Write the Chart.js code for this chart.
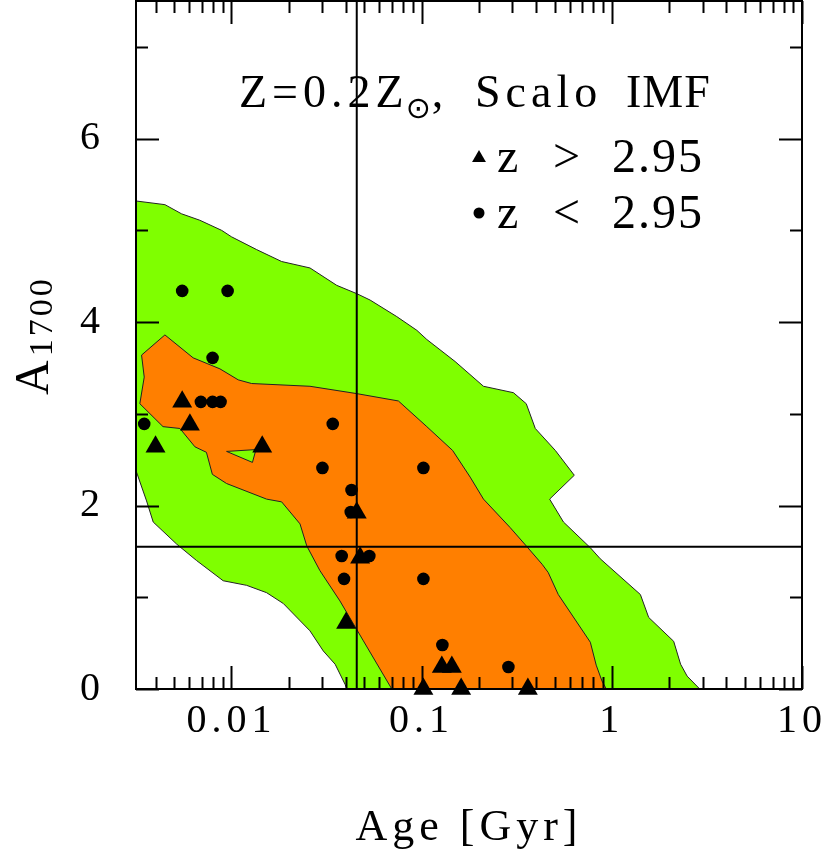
<!DOCTYPE html>
<html><head><meta charset="utf-8">
<script src="https://cdn.jsdelivr.net/npm/chart.js@4/dist/chart.umd.min.js"></script>
<style>html,body{margin:0;padding:0;background:#fff}#wrap{width:830px;height:852px}</style>
</head><body><div id="wrap"><canvas id="c" width="830" height="852"></canvas></div>
<script>
// ---- axis ranges and tick labels ----
const xMin = 0.00315, xMax = 10, yMin = 0, yMax = 7.5;
const xTickLabels = [0.01, 0.1, 1, 10];
const yTickLabels = [0, 2, 4, 6];
const yMinorTicks = [1, 3, 5, 7];

// ---- outer (green) confidence region: age [Gyr], A1700 ----
const greenAge = [0.00315,0.00447,0.00547,0.00682,0.00888,0.0100,0.01357,0.01837,0.02588,0.0358,0.0456,0.0536,0.0740,0.0944,0.1065,0.150,0.2115,0.304,0.355,0.396,0.505,0.635,0.471,0.557,0.771,0.869,1.413,1.563,2.115,2.30,2.49,2.90,
  0.0404,0.0396,0.0351,0.0304,0.02588,0.01874,0.01531,0.01202,0.00905,0.00656,0.00515,0.00388,0.00358,0.00315,0.00315];
const greenA = [5.32,5.28,5.18,5.11,5.00,4.93,4.79,4.66,4.59,4.40,4.31,4.24,4.06,3.91,3.81,3.57,3.30,3.23,3.11,2.84,2.60,2.33,2.07,1.82,1.54,1.42,1.03,0.78,0.52,0.27,0.14,0,
  0,0.05,0.27,0.415,0.634,0.932,1.05,1.13,1.18,1.40,1.58,1.82,2.05,2.38,5.32];

// ---- inner (orange) confidence region ----
const orangeAge = [0.00337,0.00447,0.00629,0.00870,0.01086,0.01277,0.02588,0.0456,0.0755,0.1065,0.1456,0.180,0.2115,0.292,0.355,0.430,0.463,0.523,0.771,0.828,0.888,0.935,
  0.0697,0.0494,0.0372,0.0292,0.0249,0.02294,0.01837,0.01531,0.00943,0.00794,0.00739,0.00643,0.00536,0.00437,0.00330,0.00348,0.00337];
const orangeA = [3.64,3.86,3.61,3.49,3.37,3.33,3.30,3.22,3.14,2.86,2.60,2.31,2.07,1.76,1.56,1.36,1.27,1.03,0.51,0.26,0.087,0,
  0,0.525,0.96,1.29,1.56,1.80,2.04,2.07,2.24,2.34,2.58,2.64,2.84,2.86,3.11,3.40,3.64];

// ---- small green hole inside the orange region ----
const holeAge = [0.00943,0.01346,0.01290,0.00943];
const holeA = [2.59,2.61,2.47,2.59];

// ---- galaxies: z < 2.95 (circles) ----
const lowzAge = [0.00551,0.00955,0.00796,0.00691,0.00796,0.00877,0.00348,0.0341,0.0301,0.1022,0.0428,0.0424,0.0380,0.0531,0.0391,0.1022,0.1286,0.286];
const lowzA = [4.34,4.34,3.61,3.13,3.13,3.13,2.89,2.89,2.41,2.41,2.17,1.93,1.45,1.45,1.20,1.20,0.48,0.24];

// ---- galaxies: z > 2.95 (triangles) ----
const highzAge = [0.00551,0.00605,0.00399,0.01452,0.0456,0.0475,0.0401,0.1277,0.1442,0.1022,0.1614,0.362];
const highzA = [3.13,2.88,2.64,2.64,1.92,1.43,0.72,0.24,0.24,0,0,0];

// ---- reference lines ----
const refAge = 0.0456;
const refA = 1.55;

const pts = (xs, ys) => xs.map((x, i) => ({x, y: ys[i]}));
const SERIF = '"Liberation Serif", "DejaVu Serif", serif';

const spacing = {
  id: 'spacing',
  beforeUpdate(chart) { chart.ctx.letterSpacing = '5px'; },
  beforeDraw(chart) { chart.ctx.letterSpacing = '5px'; }
};

// keep the plot frame flush with the top of the canvas (as in the original figure)
const areaFix = {
  id: 'areaFix',
  afterLayout(chart) {
    const ca = chart.chartArea, ya = chart.scales.y;
    const top = 1;
    if (Math.abs(ca.top - top) < 0.5) return;
    ca.top = top; ca.height = ca.bottom - top;
    ya.top = top; ya.height = ya.bottom - top;
    ya.configure();
  }
};

const frameTicks = {
  id: 'frameTicks',
  afterDatasetDraw(chart, args) {
    if (chart.data.datasets[args.index].label !== 'hole') return;
    const ctx = chart.ctx, xa = chart.scales.x, ya = chart.scales.y, ca = chart.chartArea;
    ctx.save();
    ctx.strokeStyle = '#000'; ctx.lineWidth = 2;
    ctx.strokeRect(ca.left, ca.top, ca.right - ca.left, ca.bottom - ca.top);
    ctx.beginPath();
    for (let d = -3; d <= 1; d++) {
      for (let m = 1; m <= 9; m++) {
        const v = m * Math.pow(10, d);
        if (v < xMin * 0.999 || v > xMax * 1.001) continue;
        const len = (m === 1) ? 23 : 12;
        const p = Math.round(xa.getPixelForValue(v)) + 0.5;
        ctx.moveTo(p, ca.bottom); ctx.lineTo(p, ca.bottom - len);
        ctx.moveTo(p, ca.top); ctx.lineTo(p, ca.top + len);
      }
    }
    const yt = yTickLabels.map(v => [v, 23]).concat(yMinorTicks.map(v => [v, 12]));
    for (const [v, len] of yt) {
      const p = Math.round(ya.getPixelForValue(v)) + 0.5;
      ctx.moveTo(ca.left, p); ctx.lineTo(ca.left + len, p);
      ctx.moveTo(ca.right, p); ctx.lineTo(ca.right - len, p);
    }
    ctx.stroke();
    ctx.restore();
  }
};

const annot = {
  id: 'annot',
  afterDraw(chart) {
    const ctx = chart.ctx;
    ctx.save();
    ctx.fillStyle = '#000';
    ctx.textBaseline = 'alphabetic';
    ctx.textAlign = 'left';
    // title line
    const big = '46px ' + SERIF;
    ctx.font = big;
    ctx.letterSpacing = '5px';
    let x = 239; const by = 107;
    ctx.fillText('Z=0.2Z', x, by);
    x += ctx.measureText('Z=0.2Z').width - 3;
    ctx.letterSpacing = '0px';
    ctx.font = '30px "DejaVu Sans"';
    ctx.fillText('\u2299', x, by + 11);
    x += ctx.measureText('\u2299').width + 1;
    ctx.font = big;
    ctx.fillText(',', x, by);
    ctx.letterSpacing = '5px';
    ctx.fillText('Scalo', 475, by);
    ctx.letterSpacing = '1px';
    ctx.fillText('IMF', 626, by);
    // legend lines
    ctx.font = '48px ' + SERIF;
    ctx.letterSpacing = '2px';
    ctx.fillText('z', 497, 172); ctx.fillText('>', 553, 172); ctx.fillText('2.95', 612, 172);
    ctx.fillText('z', 497, 228); ctx.fillText('<', 553, 228); ctx.fillText('2.95', 612, 228);
    // legend keys
    ctx.beginPath();
    const tx = 479, ty = 158, r = 8;
    ctx.moveTo(tx, ty - r); ctx.lineTo(tx + r * 0.866, ty + r / 2); ctx.lineTo(tx - r * 0.866, ty + r / 2); ctx.closePath();
    ctx.fill();
    ctx.beginPath(); ctx.arc(479, 213, 5.5, 0, Math.PI * 2); ctx.fill();
    // y axis title A_1700
    ctx.translate(48, 395);
    ctx.rotate(-Math.PI / 2);
    ctx.letterSpacing = '0px';
    ctx.font = '48px ' + SERIF;
    ctx.fillText('A', 0, 0);
    const aw = ctx.measureText('A').width;
    ctx.font = '34px ' + SERIF;
    ctx.letterSpacing = '3px';
    ctx.fillText('1700', aw + 4, 4);
    ctx.restore();
  }
};

new Chart(document.getElementById('c'), {
  type: 'scatter',
  data: {
    datasets: [
      { label: 'green', data: pts(greenAge, greenA), showLine: true, fill: 'shape', backgroundColor: '#7fff00', borderColor: '#222', borderWidth: 1, pointRadius: 0, tension: 0, order: 10 },
      { label: 'orange', data: pts(orangeAge, orangeA), showLine: true, fill: 'shape', backgroundColor: '#ff7f00', borderColor: '#222', borderWidth: 1, pointRadius: 0, tension: 0, order: 9 },
      { label: 'hole', data: pts(holeAge, holeA), showLine: true, fill: 'shape', backgroundColor: '#7fff00', borderColor: '#222', borderWidth: 1, pointRadius: 0, tension: 0, order: 8 },
      { label: 'vline', data: [{x: refAge, y: yMin}, {x: refAge, y: yMax}], showLine: true, borderColor: '#000', borderWidth: 2, pointRadius: 0, order: 6 },
      { label: 'hline', data: [{x: xMin, y: refA}, {x: xMax, y: refA}], showLine: true, borderColor: '#000', borderWidth: 2, pointRadius: 0, order: 6 },
      { label: 'z < 2.95', data: pts(lowzAge, lowzA), pointStyle: 'circle', pointRadius: 6.3, backgroundColor: '#000', borderWidth: 0, clip: false, order: 1 },
      { label: 'z > 2.95', data: pts(highzAge, highzA), pointStyle: 'triangle', pointRadius: 11.5, backgroundColor: '#000', borderWidth: 0, clip: false, order: 1 }
    ]
  },
  options: {
    responsive: false,
    animation: false,
    devicePixelRatio: 1,
    layout: { autoPadding: false, padding: { top: 1, right: 28, left: 0, bottom: 0 } },
    plugins: { legend: { display: false }, tooltip: { enabled: false } },
    scales: {
      x: {
        type: 'logarithmic', min: xMin, max: xMax, position: 'bottom',
        grid: { display: false, drawTicks: false },
        border: { display: false },
        afterBuildTicks: s => { s.ticks = xTickLabels.map(v => ({ value: v })); },
        afterFit: s => { s.height = 163; s.paddingLeft = 0; s.paddingRight = 0; },
        ticks: { color: '#000', font: { family: SERIF, size: 40 }, padding: 8, maxRotation: 0, autoSkip: false, callback: v => String(v) },
        title: { display: true, text: 'Age [Gyr]', color: '#000', font: { family: SERIF, size: 44 }, padding: { top: 0, bottom: -3 } }
      },
      y: {
        min: yMin, max: yMax,
        grid: { display: false, drawTicks: false },
        border: { display: false },
        afterBuildTicks: s => { s.ticks = yTickLabels.map(v => ({ value: v })); },
        afterFit: s => { s.width = 136; s.paddingTop = 0; s.paddingBottom = 0; },
        ticks: { color: '#000', font: { family: SERIF, size: 40 }, padding: 31, callback: v => String(v) }
      }
    }
  },
  plugins: [spacing, areaFix, frameTicks, annot]
});
</script>
</body></html>
